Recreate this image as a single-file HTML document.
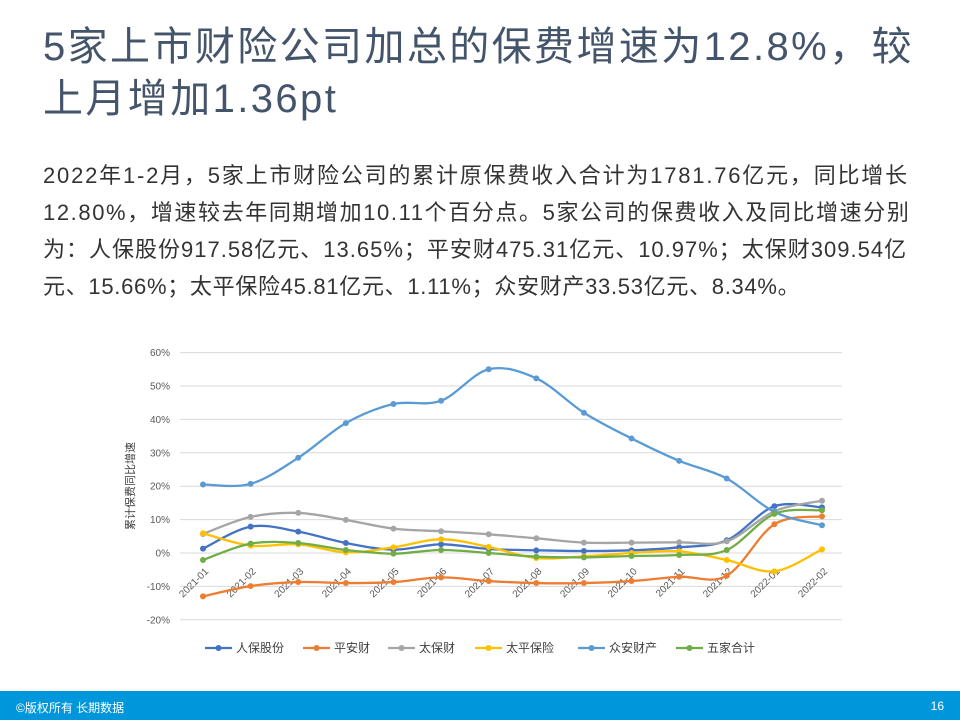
<!DOCTYPE html>
<html><head><meta charset="utf-8">
<style>
body{margin:0;width:960px;height:720px;position:relative;background:#fff;overflow:hidden;font-family:"Liberation Sans","Noto Sans CJK SC",sans-serif}
.t{position:absolute;left:43px;top:21px;font-size:40px;line-height:52px;color:#44546a;white-space:nowrap;letter-spacing:2.4px}
.b{position:absolute;left:43px;font-size:22px;line-height:37px;color:#333;white-space:nowrap}
.f{position:absolute;left:0;top:691px;width:960px;height:29px;background:#0096dc;color:#fff;font-size:12px}
</style></head><body>
<div class="t">5家上市财险公司加总的保费增速为12.8%，较<br>上月增加1.36pt</div>
<div class="b" style="top:157px;letter-spacing:1.8px">2022年1-2月，5家上市财险公司的累计原保费收入合计为1781.76亿元，同比增长</div>
<div class="b" style="top:194px;letter-spacing:1.6px">12.80%，增速较去年同期增加10.11个百分点。5家公司的保费收入及同比增速分别</div>
<div class="b" style="top:231px;letter-spacing:1.0px">为：人保股份917.58亿元、13.65%；平安财475.31亿元、10.97%；太保财309.54亿</div>
<div class="b" style="top:268px;letter-spacing:0.7px">元、15.66%；太平保险45.81亿元、1.11%；众安财产33.53亿元、8.34%。</div>
<svg id="c" width="960" height="720" style="position:absolute;left:0;top:0"></svg>
<div class="f"><span style="position:absolute;left:16px;top:8px">©版权所有 长期数据</span><span style="position:absolute;right:16px;top:8px">16</span></div>
<script>
var s='',x0=203,dx=(822-203)/13,y0=553,k=3.34;
function Y(v){return y0-v*k}
for(var g=60;g>=-20;g-=10){var y=Y(g);s+='<line x1="180" x2="842" y1="'+y+'" y2="'+y+'" stroke="#d9d9d9" stroke-width="1"/>';
s+='<text x="170" y="'+(y+3.5)+'" text-anchor="end" font-size="10" fill="#595959">'+g+'%</text>';}
var L=['2021-01','2021-02','2021-03','2021-04','2021-05','2021-06','2021-07','2021-08','2021-09','2021-10','2021-11','2021-12','2022-01','2022-02'];
L.forEach(function(l,i){var x=x0+i*dx+6;s+='<text transform="translate('+x+',572) rotate(-45)" text-anchor="end" font-size="10" fill="#595959">'+l+'</text>'});
s+='<text transform="translate(134,486) rotate(-90)" text-anchor="middle" font-size="11" fill="#404040">累计保费同比增速</text>';
var D=[['#4472c4',[1.3,7.9,6.4,3.0,1.0,2.6,1.2,0.8,0.6,0.8,1.7,3.8,14,13.65]],
['#ed7d31',[-13,-9.9,-8.7,-9,-8.7,-7.3,-8.4,-9,-9,-8.4,-7.1,-6.8,8.6,10.97]],
['#a5a5a5',[5.7,10.8,12,9.9,7.3,6.5,5.6,4.4,3.1,3.1,3.2,3.5,12.5,15.66]],
['#ffc000',[5.9,2.2,2.6,0.2,1.7,4.1,1.8,-1.5,-1,0,0.5,-2.1,-5.5,1.1]],
['#5b9bd5',[20.5,20.7,28.5,38.9,44.6,45.6,55,52.3,42,34.3,27.6,22.3,12.3,8.3]],
['#70ad47',[-2.1,2.8,3,0.9,-0.2,0.9,0,-1.1,-1.3,-0.9,-0.6,0.9,11.7,12.8]]];
var N=['人保股份','平安财','太保财','太平保险','众安财产','五家合计'];
D.forEach(function(d){var p=d[1].map(function(v,i){return [x0+i*dx,Y(v)]});
var path='M'+p[0][0]+','+p[0][1];
for(var i=0;i<p.length-1;i++){var a=p[Math.max(i-1,0)],b=p[i],c=p[i+1],e=p[Math.min(i+2,p.length-1)],t=6;
path+=' C'+(b[0]+(c[0]-a[0])/t)+','+(b[1]+(c[1]-a[1])/t)+' '+(c[0]-(e[0]-b[0])/t)+','+(c[1]-(e[1]-b[1])/t)+' '+c[0]+','+c[1];}
s+='<path d="'+path+'" fill="none" stroke="'+d[0]+'" stroke-width="2.3"/>';
p.forEach(function(q){s+='<circle cx="'+q[0]+'" cy="'+q[1]+'" r="3" fill="'+d[0]+'"/>'});});
var lx=[205,303,388,475,578,676];
D.forEach(function(d,i){var x=lx[i];s+='<line x1="'+x+'" x2="'+(x+27)+'" y1="648" y2="648" stroke="'+d[0]+'" stroke-width="2.3"/><circle cx="'+(x+13.5)+'" cy="648" r="3" fill="'+d[0]+'"/><text x="'+(x+31)+'" y="652" font-size="12" fill="#404040">'+N[i]+'</text>'});
document.getElementById('c').innerHTML=s;
</script>
</body></html>
